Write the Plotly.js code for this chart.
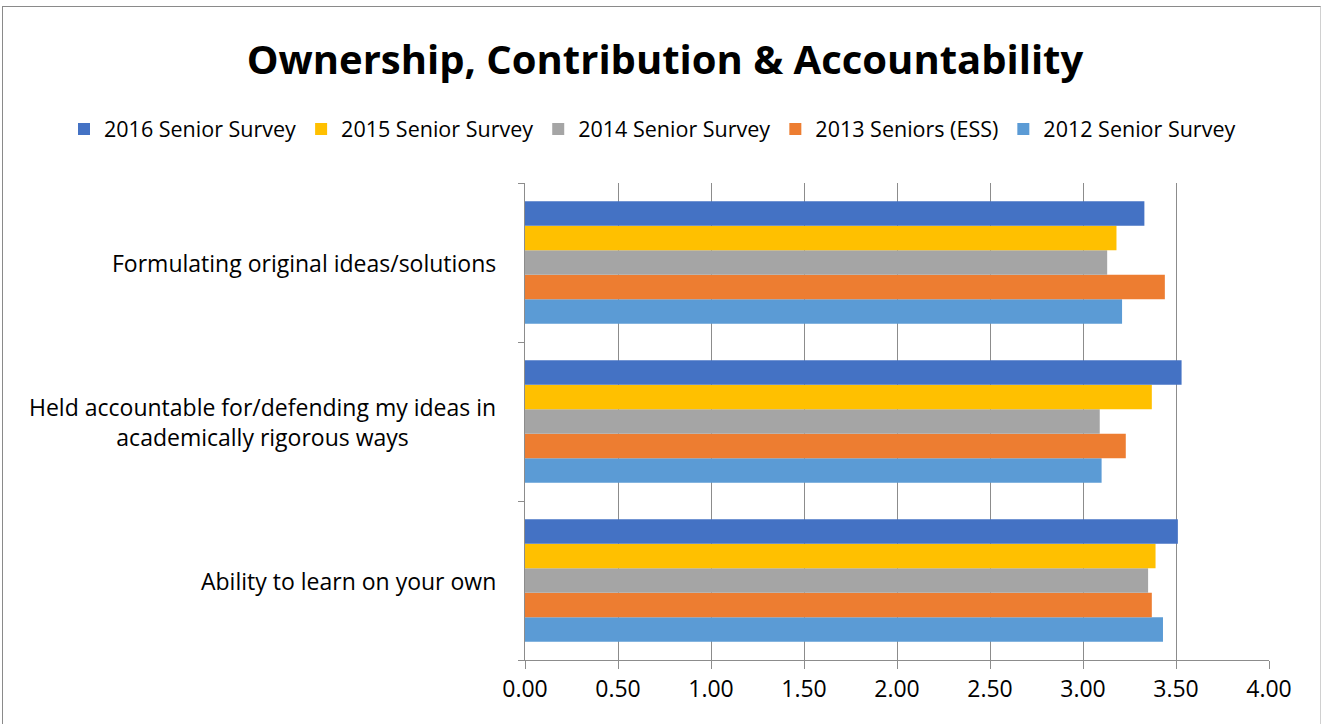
<!DOCTYPE html>
<html>
<head>
<meta charset="utf-8">
<script src="https://cdn.plot.ly/plotly-3.0.1.min.js"></script>
<style>
html,body{margin:0;padding:0;background:#fff;}
#wrap{position:relative;width:1322px;height:724px;overflow:hidden;}
#chart{width:1322px;height:724px;}
#frame{position:absolute;left:2px;top:6px;width:1317px;height:740px;border-left:1px solid #8a8a8a;border-top:1px solid #8a8a8a;border-right:1px solid #d0d0d0;pointer-events:none;}
</style>
</head>
<body>
<div id="wrap"><div id="chart"></div><div id="frame"></div></div>
<script>
// Categories, bottom to top (as drawn)
const categories = [
  'Ability to learn on your own',
  'Held accountable for/defending my ideas in<br>academically rigorous ways',
  'Formulating original ideas/solutions'
];
const seriesNames = ['2012 Senior Survey','2013 Seniors (ESS)','2014 Senior Survey','2015 Senior Survey','2016 Senior Survey'];
const s2012 = [3.43, 3.10, 3.21];
const s2013 = [3.37, 3.23, 3.44];
const s2014 = [3.35, 3.09, 3.13];
const s2015 = [3.39, 3.37, 3.18];
const s2016 = [3.51, 3.53, 3.33];
const seriesValues = [s2012, s2013, s2014, s2015, s2016];
const seriesColors = ['#5B9BD5','#ED7D31','#A5A5A5','#FFC000','#4472C4'];
const xTickVals = [0,0.5,1,1.5,2,2.5,3,3.5,4];

const FONT = 'Open Sans, Noto Sans, sans-serif';

const traces = seriesNames.map((n,i)=>({
  type:'bar', orientation:'h', name:n,
  y:categories, x:seriesValues[i],
  marker:{color:seriesColors[i]},
  hoverinfo:'x+name'
}));

const annotations = categories.map(c=>({
  xref:'paper', yref:'y', x:-0.036, y:c,
  xanchor:'right', yanchor:'middle', align:'center',
  text:c, showarrow:false,
  font:{family:FONT, size:23, color:'#000'}
}));

const layout = {
  width:1322, height:724,
  margin:{l:525, r:53, t:183, b:64},
  paper_bgcolor:'#fff', plot_bgcolor:'#fff',
  font:{family:FONT, color:'#000'},
  title:{text:'<b>Ownership, Contribution &amp; Accountability</b>',
    x:0.503, xref:'container', xanchor:'center',
    y:1-60/724, yref:'container', yanchor:'middle',
    font:{family:FONT, size:40, color:'#000'}},
  showlegend:true,
  legend:{orientation:'h', traceorder:'reversed',
    xref:'paper', yref:'paper', x:(64-525)/744, xanchor:'left',
    y:1+(183-129)/477, yanchor:'middle',
    font:{family:FONT, size:21.5, color:'#000'},
    itemwidth:30, tracegroupgap:0},
  barmode:'group', bargap:0.23, bargroupgap:0,
  xaxis:{range:[0,4], tickvals:xTickVals, tickformat:'.2f',
    showgrid:true, gridcolor:'#8c8c8c', gridwidth:1,
    zeroline:false, showline:true, linecolor:'#8c8c8c', linewidth:1,
    ticks:'outside', ticklen:8, tickcolor:'#8c8c8c',
    tickfont:{family:FONT, size:23, color:'#000'}, fixedrange:true},
  yaxis:{type:'category', categoryorder:'array', categoryarray:categories,
    showticklabels:false, tickson:'boundaries', ticks:'outside', ticklen:6,
    tickcolor:'#8c8c8c', showline:true, linecolor:'#8c8c8c', linewidth:1,
    showgrid:false, zeroline:false, fixedrange:true},
  annotations:annotations
};

Plotly.newPlot('chart', traces, layout, {displayModeBar:false});
</script>
</body>
</html>
